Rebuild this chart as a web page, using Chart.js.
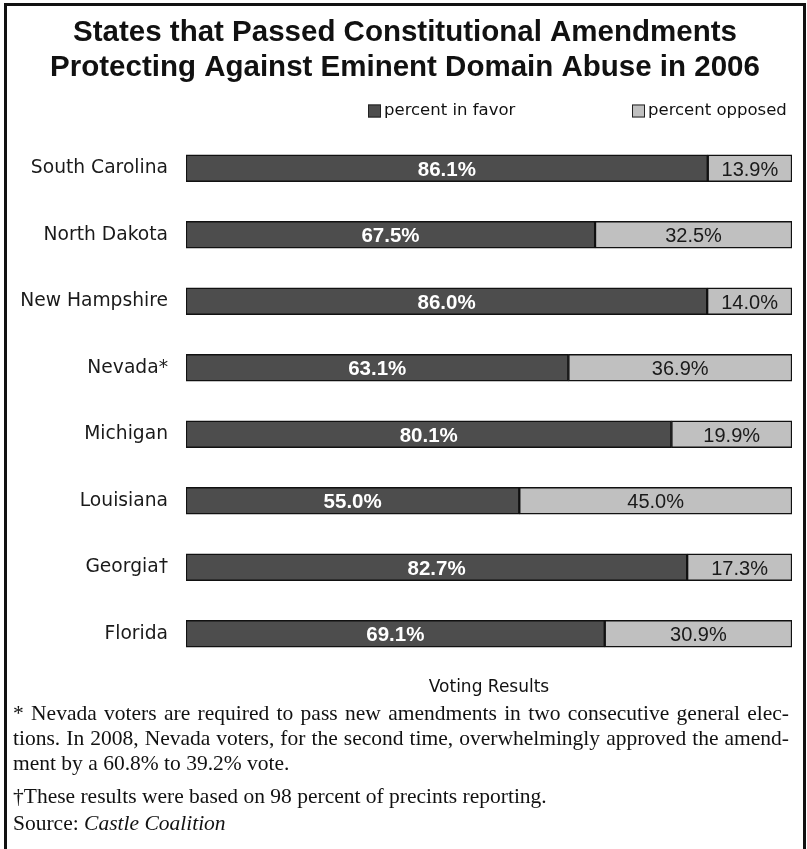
<!DOCTYPE html>
<html>
<head>
<meta charset="utf-8">
<title>Eminent Domain Amendments 2006</title>
<script src="https://cdn.jsdelivr.net/npm/chart.js@4.4.1/dist/chart.umd.min.js"></script>
<style>
  body { margin: 0; background: #fff; }
  #frame {
    position: absolute; left: 4px; top: 3px; width: 802px; height: 860px;
    border: 3px solid #111; border-bottom: none; box-sizing: border-box;
  }
  #chartBox { position: absolute; left: 0; top: 0; width: 807px; height: 702px; }
  #notes {
    position: absolute; left: 13px; top: 701px; width: 776px;
    font-family: "Liberation Serif", "Times New Roman", serif; font-size: 21.5px; color: #111;
  }
  .line { line-height: 25px; white-space: nowrap; }
  .just { text-align: justify; text-align-last: justify; white-space: normal; }
  .gap { margin-top: 8px; }
</style>
</head>
<body>
<div id="chartBox"><canvas id="chart"></canvas></div>
<div id="notes">
  <div class="line just">* Nevada voters are required to pass new amendments in two consecutive general elec-</div>
  <div class="line just">tions. In 2008, Nevada voters, for the second time, overwhelmingly approved the amend-</div>
  <div class="line">ment by a 60.8% to 39.2% vote.</div>
  <div class="line gap">&dagger;These results were based on 98 percent of precints reporting.</div>
  <div class="line" style="margin-top:2px">Source: <i>Castle Coalition</i></div>
</div>
<div id="frame"></div>
<script>
// Ballot results per state, top to bottom
const states = ['South Carolina', 'North Dakota', 'New Hampshire', 'Nevada*', 'Michigan', 'Louisiana', 'Georgia\u2020', 'Florida'];
const inFavor = [86.1, 67.5, 86.0, 63.1, 80.1, 55.0, 82.7, 69.1];
const opposed = [13.9, 32.5, 14.0, 36.9, 19.9, 45.0, 17.3, 30.9];
const seriesNames = ['percent in favor', 'percent opposed'];
const titleLines = ['States that Passed Constitutional Amendments', 'Protecting Against Eminent Domain Abuse in 2006'];
const axisTitle = 'Voting Results';

const DARK = '#4d4d4d';
const LIGHT = '#c0c0c0';
const EDGE = '#111';

// Percent labels centred inside each segment
const barLabels = {
  id: 'barLabels',
  afterDatasetsDraw(chart) {
    const ctx = chart.ctx;
    ctx.save();
    ctx.textAlign = 'center';
    ctx.textBaseline = 'middle';
    chart.data.datasets.forEach((ds, i) => {
      const meta = chart.getDatasetMeta(i);
      meta.data.forEach((bar, j) => {
        const p = bar.getProps(['x', 'base', 'y'], true);
        const cx = (p.x + p.base) / 2;
        if (i === 0) {
          ctx.font = 'bold 20.5px "Liberation Sans", Arial, sans-serif';
          ctx.fillStyle = '#fff';
        } else {
          ctx.font = '20px "Liberation Sans", Arial, sans-serif';
          ctx.fillStyle = '#1a1a1a';
        }
        ctx.fillText(ds.data[j].toFixed(1) + '%', cx, p.y + 2);
      });
    });
    ctx.restore();
  }
};

// Legend row above the bars
const legendRow = {
  id: 'legendRow',
  afterDraw(chart, args, opts) {
    const ctx = chart.ctx;
    ctx.save();
    ctx.font = '16.5px "DejaVu Sans", Verdana, sans-serif';
    ctx.textBaseline = 'middle';
    ctx.textAlign = 'left';
    chart.data.datasets.forEach((ds, i) => {
      const x = opts.xs[i];
      const y = opts.y;
      ctx.fillStyle = ds.backgroundColor;
      ctx.fillRect(x, y - 6.5, 13, 13);
      ctx.strokeStyle = '#222';
      ctx.lineWidth = 1;
      ctx.strokeRect(x + 0.5, y - 6, 12, 12);
      ctx.fillStyle = '#111';
      ctx.fillText(ds.label, x + 16, y);
    });
    ctx.restore();
  }
};

new Chart(document.getElementById('chart'), {
  type: 'bar',
  data: {
    labels: states,
    datasets: [
      { label: seriesNames[0], data: inFavor, backgroundColor: DARK },
      { label: seriesNames[1], data: opposed, backgroundColor: LIGHT }
    ]
  },
  options: {
    indexAxis: 'y',
    responsive: true,
    maintainAspectRatio: false,
    animation: false,
    layout: { padding: { left: 18, right: 15, top: 0, bottom: 0 } },
    datasets: {
      bar: { barThickness: 27, borderWidth: 1.5, borderColor: EDGE, borderSkipped: false }
    },
    scales: {
      x: {
        stacked: true, min: 0, max: 100,
        grid: { display: false, drawTicks: false },
        border: { display: false },
        ticks: { display: false },
        title: {
          display: true, text: axisTitle, color: '#111',
          font: { family: '"DejaVu Sans", Verdana, sans-serif', size: 17, lineHeight: 1.2 },
          padding: { top: 10.8, bottom: 3.8 }
        }
      },
      y: {
        stacked: true,
        grid: { display: false, drawTicks: false },
        border: { display: false },
        ticks: {
          color: '#1a1a1a', padding: 18,
          font: { family: '"DejaVu Sans", Verdana, sans-serif', size: 18.7 }
        },
        afterFit(scale) { scale.width = 168; }
      }
    },
    plugins: {
      legend: { display: false },
      tooltip: { enabled: false },
      title: {
        display: true, text: titleLines, color: '#111',
        font: { family: '"Liberation Sans", Arial, sans-serif', size: 29.5, weight: 'bold', lineHeight: 1.186 },
        padding: { top: 15.5, bottom: 49.5 }
      },
      legendRow: { xs: [368, 632], y: 111 }
    }
  },
  plugins: [barLabels, legendRow]
});
</script>
</body>
</html>
